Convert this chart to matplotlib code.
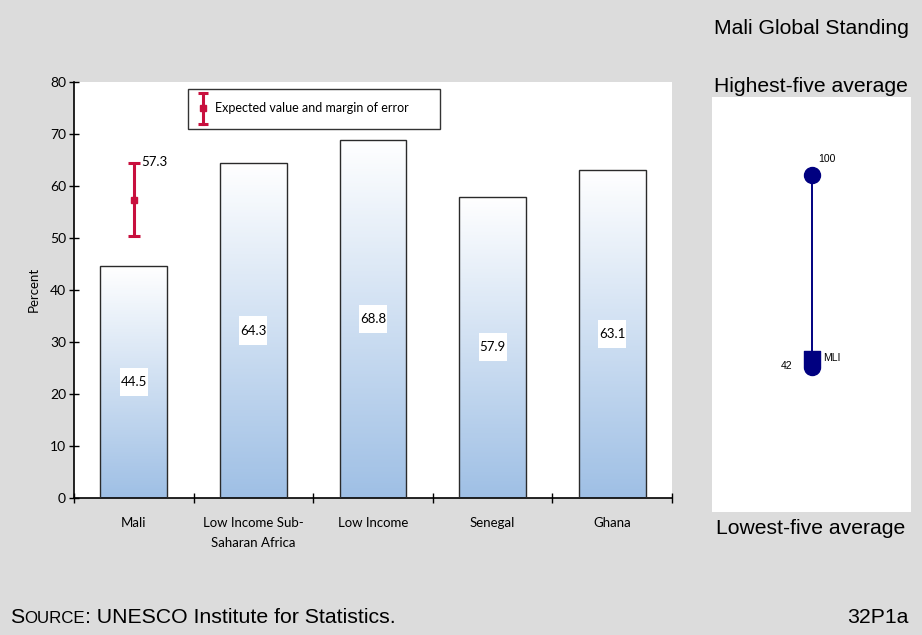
import numpy as np
import matplotlib
matplotlib.use("Agg")
import matplotlib.pyplot as plt
from matplotlib.colors import LinearSegmentedColormap
from matplotlib.path import Path
from matplotlib.patches import Rectangle

# ---- data ----
categories = ["Mali", "Low Income Sub-\nSaharan Africa", "Low Income", "Senegal", "Ghana"]
values = [44.5, 64.3, 68.8, 57.9, 63.1]
expected_value = 57.3
margin_of_error = 7.0
y_ticks = [0, 10, 20, 30, 40, 50, 60, 70, 80]

standing_high = 100
standing_country = 42
country_code = "MLI"

BG = "#dcdcdc"
BAR_BLUE = "#9bbde4"
ERR_RED = "#c8103e"
NAVY = "#000080"
CHART_FONT = ["Lato", "DejaVu Sans"]
SIDE_FONT = ["Liberation Sans", "DejaVu Sans"]

W, H = 922, 635
fig = plt.figure(figsize=(W / 100, H / 100), dpi=100, facecolor=BG)


def frac_box(x0, y0, x1, y1):
    """pixel box (top-left origin) -> figure fraction rect"""
    return [x0 / W, 1 - y1 / H, (x1 - x0) / W, (y1 - y0) / H]


def fy(py):
    return 1 - py / H


# ---- main bar chart ----
ax = fig.add_axes(frac_box(74, 81.7, 672, 497.7))
ax.set_facecolor("white")

cmap = LinearSegmentedColormap.from_list("barfade", [BAR_BLUE, "white"])
grad = np.linspace(0, 1, 256).reshape(-1, 1)
bar_w = 0.56
box_w, box_h = 0.235, 5.4   # value-label box size (category units, percent)
for i, v in enumerate(values):
    x0, x1 = i - bar_w / 2, i + bar_w / 2
    ax.imshow(grad, extent=(x0, x1, 0, v), origin="lower", cmap=cmap,
              aspect="auto", zorder=2, interpolation="bilinear",
              vmin=-0.04, vmax=1.0)
    ax.bar(i, v, width=bar_w, facecolor="none", edgecolor="#2a2a2a",
           linewidth=1.0, zorder=3)
    ax.add_patch(Rectangle((i - box_w / 2, v / 2 - box_h / 2), box_w, box_h,
                           facecolor="white", edgecolor="none", zorder=4))
    ax.text(i, v / 2, f"{v:.1f}", ha="center", va="center", fontsize=9.5,
            family=CHART_FONT, zorder=5)
ax.set_xlim(-0.5, len(categories) - 0.5)
ax.set_ylim(0, 80)

# expected value with margin of error
ax.errorbar(0, expected_value, yerr=margin_of_error, fmt="s", color=ERR_RED,
            markersize=5, elinewidth=2.2, capsize=4, capthick=2.2, zorder=6)
ax.text(0.06, expected_value + margin_of_error + 0.3, f"{expected_value}",
        fontsize=9.5, family=CHART_FONT, va="center", ha="left", zorder=6)

# legend box with its error-bar key
ta = ax.transAxes
ax.add_patch(Rectangle((0.1906, 0.8863), 0.4214, 0.0962, transform=ta,
                       facecolor="white", edgecolor="#333333", lw=1.0, zorder=7))
kx, ky0, ky1, kym = 0.2157, 0.8983, 0.9728, 0.9368
cap = 0.0085
ax.plot([kx, kx], [ky0, ky1], transform=ta, color=ERR_RED, lw=2.2, zorder=8)
for ky in (ky0, ky1):
    ax.plot([kx - cap, kx + cap], [ky, ky], transform=ta, color=ERR_RED,
            lw=2.2, zorder=8, solid_capstyle="butt")
ax.plot([kx], [kym], "s", transform=ta, color=ERR_RED, markersize=5, zorder=8)
ax.text(0.2358, kym, "Expected value and margin of error", transform=ta,
        family=CHART_FONT, fontsize=9, va="center", ha="left", zorder=8)

ax.set_yticks(y_ticks)
ax.set_yticklabels([str(t) for t in y_ticks], family=CHART_FONT, fontsize=10)
ax.set_xticks(np.arange(-0.5, len(categories)), minor=False)
ax.set_xticklabels([])
ax.set_xticks(np.arange(len(categories)), minor=True)
ax.set_xticklabels(categories, minor=True, family=CHART_FONT, fontsize=9.5,
                   linespacing=1.75)
ax.tick_params(axis="x", which="major", direction="inout", length=7.5, width=1)
ax.tick_params(axis="x", which="minor", length=0, pad=14)
ax.tick_params(axis="y", direction="inout", length=7.5, width=1, pad=2)
for s in ("top", "right"):
    ax.spines[s].set_visible(False)
for s in ("left", "bottom"):
    ax.spines[s].set_linewidth(1.2)
ax.set_ylabel("Percent", family=CHART_FONT, fontsize=9.5, labelpad=7)

# ---- global standing panel ----
sx = fig.add_axes(frac_box(712, 97, 911, 512))
sx.set_facecolor("white")
px_per_unit = (500 - 174.7) / 100
sx.set_xlim(0, 1)
sx.set_ylim(-(512 - 500) / px_per_unit, 100 + (174.7 - 97) / px_per_unit)
sx.set_xticks([])
sx.set_yticks([])
for s in sx.spines.values():
    s.set_visible(False)

sx.plot([0.5, 0.5], [standing_country, standing_high], color=NAVY, lw=1.4, zorder=2)
sx.plot(0.5, standing_high, "o", color=NAVY, markersize=11.5, zorder=3)

arc = Path.arc(180, 360)
verts = list(arc.vertices * 8 + np.array([0, -4]))
codes = list(arc.codes)
verts += [(8, 12), (-8, 12), (-8, -4)]
codes += [Path.LINETO, Path.LINETO, Path.CLOSEPOLY]
d_marker = Path(verts, codes)
sx.plot(0.5, standing_country, marker=d_marker, color=NAVY, markersize=17.3,
        linestyle="none", zorder=3)

sx.text(0.533, standing_high + 4.8, f"{standing_high}", fontsize=7.5,
        family=SIDE_FONT, ha="left", va="center")
sx.text(0.405, standing_country - 0.8, f"{standing_country}", fontsize=7.5,
        family=SIDE_FONT, ha="right", va="center")
sx.text(0.56, standing_country + 1.5, country_code, fontsize=7.5,
        family=SIDE_FONT, ha="left", va="center")

fig.text(811 / W, fy(34.3), "Mali Global Standing", fontsize=15.2,
         family=SIDE_FONT, ha="center", va="baseline")
fig.text(811 / W, fy(91.7), "Highest-five average", fontsize=15.2,
         family=SIDE_FONT, ha="center", va="baseline")
fig.text(811 / W, fy(533.5), "Lowest-five average", fontsize=15.2,
         family=SIDE_FONT, ha="center", va="baseline")

# ---- footer ----
base = fy(623.3)
fig.canvas.draw()
r = fig.canvas.get_renderer()
t1 = fig.text(10 / W, base, "S", fontsize=15.3, family=SIDE_FONT,
              ha="left", va="baseline")
x_next = t1.get_window_extent(r).x1 / W
t2 = fig.text(x_next, base, "OURCE", fontsize=12.2, family=SIDE_FONT,
              ha="left", va="baseline")
x_next = t2.get_window_extent(r).x1 / W
fig.text(x_next, base, ": UNESCO Institute for Statistics.", fontsize=15.3,
         family=SIDE_FONT, ha="left", va="baseline")
fig.text(908 / W, base, "32P1a", fontsize=15.3, family=SIDE_FONT,
         ha="right", va="baseline")

fig.savefig("out.png", dpi=100, facecolor=BG)
